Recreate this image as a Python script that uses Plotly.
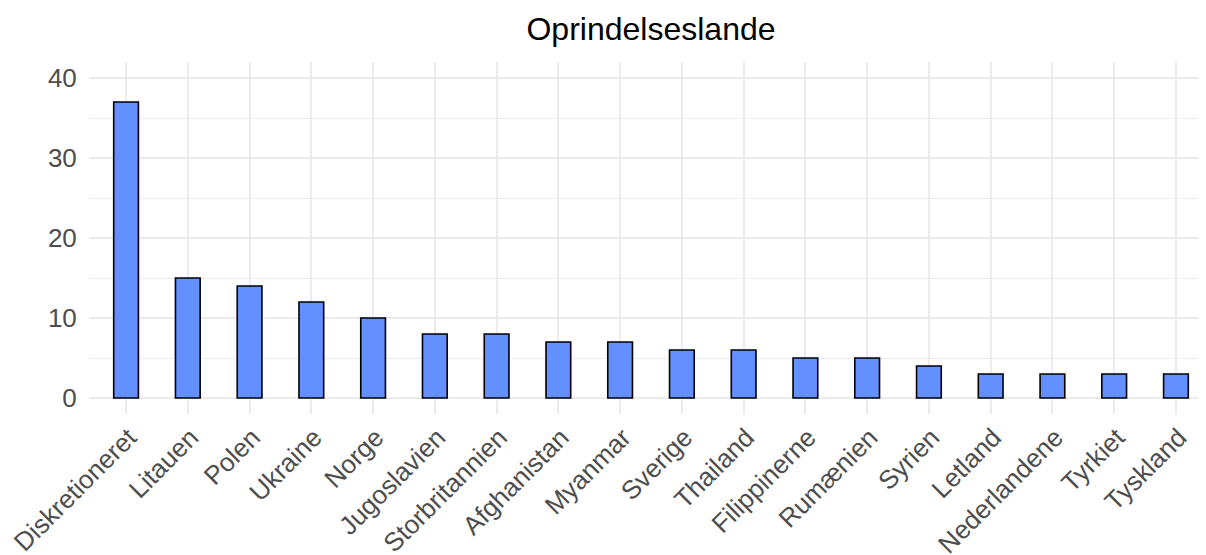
import plotly.graph_objects as go

countries = ["Diskretioneret", "Litauen", "Polen", "Ukraine", "Norge", "Jugoslavien",
             "Storbritannien", "Afghanistan", "Myanmar", "Sverige", "Thailand",
             "Filippinerne", "Rumænien", "Syrien", "Letland", "Nederlandene",
             "Tyrkiet", "Tyskland"]
counts = [37, 15, 14, 12, 10, 8, 8, 7, 7, 6, 6, 5, 5, 4, 3, 3, 3, 3]
y_ticks = [0, 10, 20, 30, 40]

FONT = "Liberation Sans, Arial, Helvetica, sans-serif"

fig = go.Figure(go.Bar(
    x=countries, y=counts, width=0.4,
    marker=dict(color="#648FFF", line=dict(color="black", width=1.6)),
))

fig.update_layout(
    width=1206, height=555,
    margin=dict(l=81, r=1, t=54, b=149, autoexpand=False),
    paper_bgcolor="white", plot_bgcolor="white",
    showlegend=False,
    font=dict(family=FONT, color="#4D4D4D"),
    title=dict(text="Oprindelseslande", font=dict(family=FONT, size=32, color="black"),
               x=0.5, xref="paper", xanchor="center",
               y=1 - 20.5 / 555, yref="container", yanchor="middle"),
)
fig.update_xaxes(
    type="category", range=[-0.6, 17.6], automargin=False,
    showgrid=True, gridcolor="#EBEBEB", gridwidth=2.2,
    tickangle=-45, tickfont=dict(size=26, color="#4D4D4D"),
    ticks="outside", ticklen=1, tickcolor="rgba(0,0,0,0)",
    ticklabelshift=3, ticklabelstandoff=-4,
    showline=False, zeroline=False,
)
fig.update_yaxes(
    range=[-2, 42], tickvals=y_ticks, automargin=False,
    showgrid=True, gridcolor="#EBEBEB", gridwidth=2.2,
    minor=dict(dtick=5, tick0=0, showgrid=True, gridcolor="#EBEBEB", gridwidth=1.1),
    tickfont=dict(size=26, color="#4D4D4D"),
    ticks="outside", ticklen=6, tickcolor="rgba(0,0,0,0)",
    showline=False, zeroline=False,
)

fig.write_html("out.html")
